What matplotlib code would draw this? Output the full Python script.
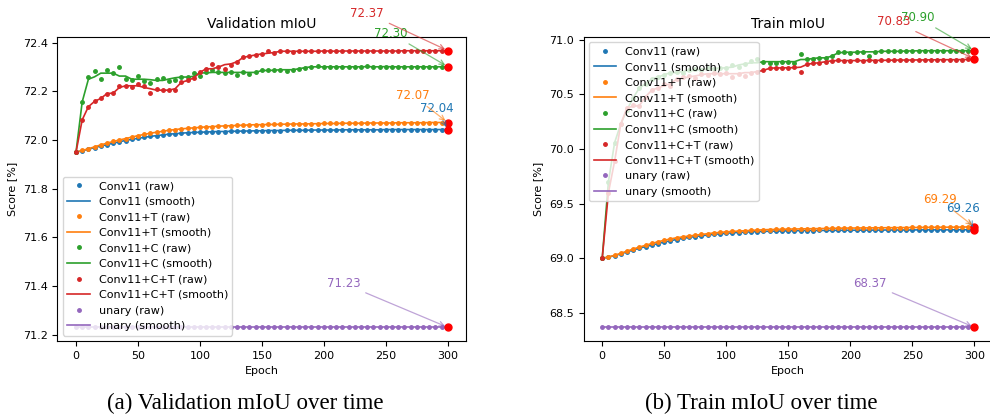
import matplotlib
matplotlib.use("Agg")
import matplotlib.pyplot as plt
import numpy as np

# epochs at which the models were evaluated
epochs = list(range(0, 301, 5))

series_names = ["Conv11", "Conv11+T", "Conv11+C", "Conv11+C+T", "unary"]
series_colors = ["C0", "C1", "C2", "C3", "C4"]

# validation mIoU [%]
val_conv11 = [
    71.950, 71.956, 71.962, 71.969, 71.975, 71.981, 71.987, 71.993, 71.998, 72.003,
    72.007, 72.011, 72.015, 72.018, 72.021, 72.024, 72.026, 72.028, 72.030, 72.031,
    72.032, 72.033, 72.034, 72.035, 72.035, 72.036, 72.036, 72.037, 72.037, 72.038,
    72.038, 72.039, 72.039, 72.039, 72.040, 72.040, 72.040, 72.040, 72.041, 72.041,
    72.041, 72.041, 72.041, 72.042, 72.042, 72.042, 72.042, 72.042, 72.042, 72.042,
    72.043, 72.043, 72.043, 72.043, 72.043, 72.043, 72.043, 72.043, 72.043, 72.043,
    72.043,
]
val_conv11_t = [
    71.950, 71.957, 71.964, 71.972, 71.980, 71.987, 71.994, 72.000, 72.006, 72.012,
    72.018, 72.023, 72.028, 72.032, 72.036, 72.040, 72.043, 72.046, 72.048, 72.050,
    72.052, 72.054, 72.055, 72.057, 72.058, 72.059, 72.060, 72.061, 72.062, 72.063,
    72.063, 72.064, 72.064, 72.065, 72.065, 72.066, 72.066, 72.066, 72.067, 72.067,
    72.068, 72.068, 72.068, 72.069, 72.069, 72.069, 72.069, 72.070, 72.070, 72.070,
    72.070, 72.070, 72.071, 72.071, 72.071, 72.071, 72.071, 72.072, 72.072, 72.072,
    72.072,
]
val_conv11_c = [
    71.950, 72.157, 72.260, 72.285, 72.250, 72.287, 72.275, 72.300, 72.250, 72.248,
    72.263, 72.244, 72.233, 72.251, 72.256, 72.244, 72.245, 72.259, 72.259, 72.276,
    72.262, 72.278, 72.286, 72.278, 72.276, 72.281, 72.268, 72.278, 72.272, 72.278,
    72.287, 72.290, 72.286, 72.289, 72.285, 72.289, 72.293, 72.298, 72.301, 72.303,
    72.301, 72.302, 72.301, 72.300, 72.302, 72.300, 72.301, 72.303, 72.302, 72.301,
    72.302, 72.300, 72.301, 72.302, 72.301, 72.300, 72.302, 72.301, 72.300, 72.301,
    72.302,
]
val_conv11_ct = [
    71.950, 72.083, 72.137, 72.159, 72.171, 72.191, 72.193, 72.223, 72.224, 72.216,
    72.231, 72.223, 72.193, 72.211, 72.204, 72.205, 72.204, 72.237, 72.245, 72.255,
    72.278, 72.293, 72.313, 72.300, 72.293, 72.310, 72.322, 72.340, 72.345, 72.350,
    72.354, 72.368, 72.357, 72.365, 72.365, 72.360, 72.365, 72.368, 72.368, 72.365,
    72.365, 72.366, 72.365, 72.366, 72.367, 72.365, 72.366, 72.367, 72.366, 72.365,
    72.367, 72.366, 72.367, 72.366, 72.367, 72.366, 72.367, 72.367, 72.366, 72.367,
    72.368,
]
val_unary = [71.23] * 61

# train mIoU [%]
tr_conv11 = [
    69.000, 69.012, 69.025, 69.042, 69.060, 69.077, 69.094, 69.108, 69.122, 69.136,
    69.150, 69.162, 69.173, 69.183, 69.192, 69.200, 69.207, 69.214, 69.220, 69.225,
    69.230, 69.234, 69.237, 69.240, 69.243, 69.245, 69.247, 69.249, 69.250, 69.251,
    69.252, 69.253, 69.254, 69.255, 69.255, 69.256, 69.256, 69.257, 69.257, 69.258,
    69.258, 69.258, 69.259, 69.259, 69.259, 69.259, 69.260, 69.260, 69.260, 69.260,
    69.260, 69.261, 69.261, 69.261, 69.261, 69.261, 69.261, 69.262, 69.262, 69.262,
    69.262,
]
tr_conv11_t = [
    69.000, 69.014, 69.028, 69.047, 69.066, 69.086, 69.104, 69.120, 69.137, 69.152,
    69.166, 69.178, 69.189, 69.197, 69.205, 69.212, 69.219, 69.226, 69.233, 69.238,
    69.243, 69.247, 69.250, 69.253, 69.256, 69.259, 69.262, 69.264, 69.265, 69.267,
    69.268, 69.269, 69.270, 69.271, 69.272, 69.273, 69.274, 69.275, 69.276, 69.277,
    69.278, 69.278, 69.279, 69.279, 69.280, 69.280, 69.281, 69.281, 69.282, 69.282,
    69.283, 69.283, 69.284, 69.284, 69.285, 69.285, 69.286, 69.286, 69.287, 69.288,
    69.289,
]
tr_conv11_c = [
    69.000, 69.700, 70.060, 70.230, 70.360, 70.470, 70.560, 70.600, 70.640, 70.660,
    70.680, 70.700, 70.710, 70.700, 70.720, 70.730, 70.720, 70.740, 70.730, 70.745,
    70.740, 70.770, 70.750, 70.780, 70.810, 70.820, 70.800, 70.790, 70.790, 70.800,
    70.800, 70.790, 70.870, 70.820, 70.820, 70.830, 70.835, 70.850, 70.886, 70.886,
    70.880, 70.890, 70.890, 70.855, 70.890, 70.895, 70.895, 70.895, 70.895, 70.900,
    70.898, 70.900, 70.898, 70.900, 70.900, 70.898, 70.900, 70.900, 70.898, 70.900,
    70.902,
]
tr_conv11_ct = [
    69.000, 69.600, 69.890, 70.230, 70.380, 70.400, 70.390, 70.480, 70.540, 70.560,
    70.600, 70.580, 70.640, 70.660, 70.670, 70.650, 70.690, 70.680, 70.700, 70.690,
    70.700, 70.660, 70.690, 70.670, 70.700, 70.710, 70.720, 70.743, 70.740, 70.745,
    70.745, 70.750, 70.710, 70.775, 70.785, 70.790, 70.800, 70.810, 70.812, 70.810,
    70.808, 70.812, 70.808, 70.812, 70.810, 70.814, 70.812, 70.815, 70.813, 70.815,
    70.816, 70.815, 70.817, 70.816, 70.818, 70.817, 70.818, 70.819, 70.818, 70.820,
    70.826,
]
tr_unary = [68.37] * 61

val_series = [val_conv11, val_conv11_t, val_conv11_c, val_conv11_ct, val_unary]
tr_series = [tr_conv11, tr_conv11_t, tr_conv11_c, tr_conv11_ct, tr_unary]

# annotation text offsets (points) for each series, left/up from the last point
ann_dx = [-8, -25, -41, -58, -75]
ann_dy = [15, 19.5, 24, 27, 31.5]


def smooth(values, half=3):
    """Running median whose window shrinks at both ends."""
    values = np.asarray(values)
    n = len(values)
    out = np.empty(n)
    for i in range(n):
        h = min(half, i, n - 1 - i)
        out[i] = np.median(values[i - h:i + h + 1])
    return out


def plot_panel(ax, series, title, legend_loc):
    for name, color, values in zip(series_names, series_colors, series):
        ax.plot(epochs, values, ".", color=color, ms=5, label=name + " (raw)")
        ax.plot(epochs, smooth(values), "-", color=color, lw=1.2,
                label=name + " (smooth)")

    for i, (color, values) in enumerate(zip(series_colors, series)):
        ax.plot(epochs[-1], values[-1], "o", color="red", ms=5)
        ax.annotate("%.2f" % values[-1], xy=(epochs[-1], values[-1]),
                    xytext=(ann_dx[i], ann_dy[i]), textcoords="offset points",
                    ha="center", va="center", color=color, fontsize=8.5,
                    arrowprops=dict(arrowstyle="->", color=color, alpha=0.6,
                                    lw=0.9))

    ax.set_title(title, fontsize=10)
    ax.set_xlabel("Epoch", fontsize=8)
    ax.set_ylabel("Score [%]", fontsize=8)
    ax.tick_params(labelsize=8)
    ax.legend(loc=legend_loc, fontsize=8)


fig = plt.figure(figsize=(9.9, 4.17), dpi=100)
ax1 = fig.add_axes([0.058, 0.182, 0.413, 0.730])
ax2 = fig.add_axes([0.5895, 0.182, 0.4135, 0.730])

plot_panel(ax1, val_series, "Validation mIoU", "lower left")
plot_panel(ax2, tr_series, "Train mIoU", "upper left")

fig.text(0.248, 0.032, "(a) Validation mIoU over time", ha="center",
         va="center", family="Liberation Serif", fontsize=16.5)
fig.text(0.769, 0.032, "(b) Train mIoU over time", ha="center",
         va="center", family="Liberation Serif", fontsize=16.5)

fig.savefig("out.png", dpi=100)
plt.close(fig)
